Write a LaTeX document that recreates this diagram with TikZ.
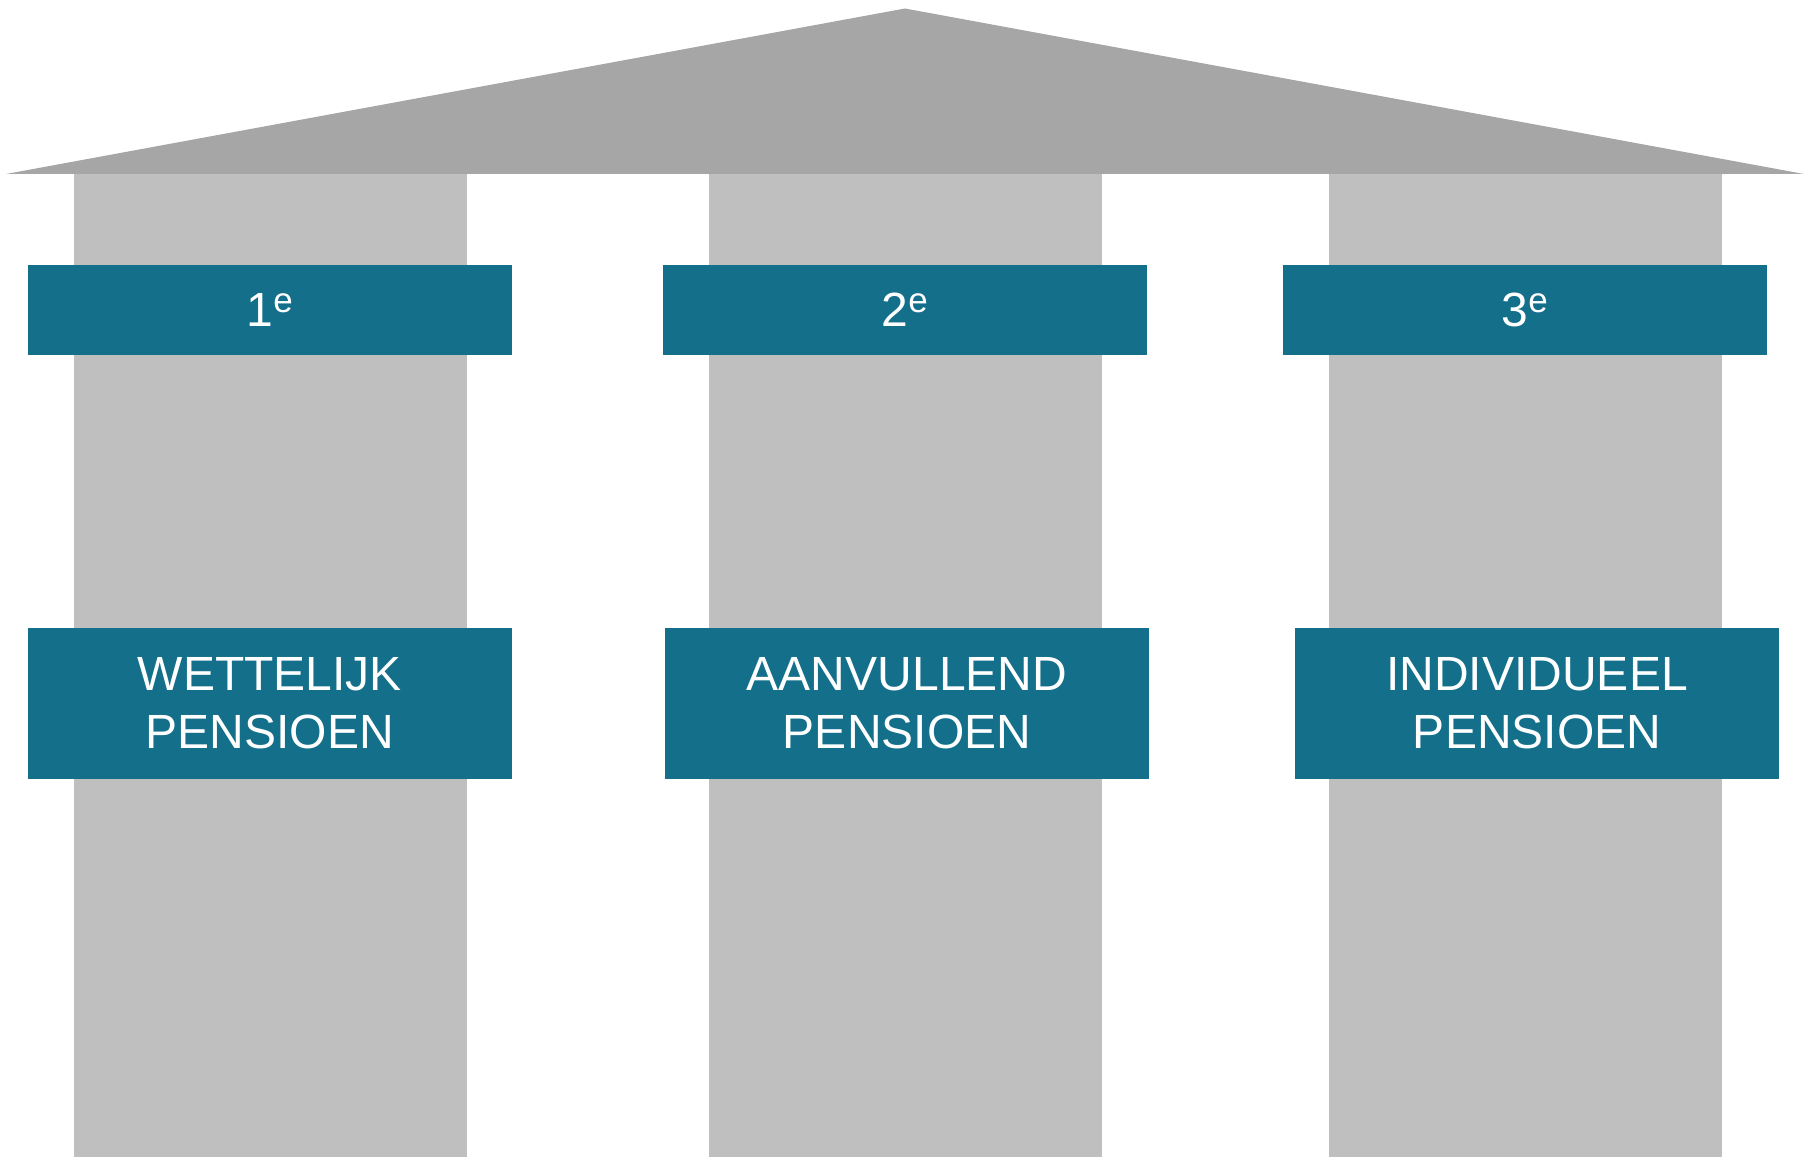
\documentclass[tikz,border=0pt]{standalone}
\usepackage{fontspec}
\setmainfont{Liberation Sans}
\definecolor{roofgray}{HTML}{A6A6A6}
\definecolor{pillargray}{HTML}{BFBFBF}
\definecolor{bannerblue}{HTML}{136F8A}
\newcommand{\supe}{\raisebox{14pt}{\fontsize{35}{35}\selectfont e}}
\begin{document}
\begin{tikzpicture}[x=1pt,y=-1pt,
  roofshape/.style={fill=roofgray},
  pillar/.style={fill=pillargray},
  banner/.style={fill=bannerblue, text=white, inner sep=0pt, align=center,
    minimum width=484pt, font=\fontsize{48}{57.6}\selectfont},
  topbanner/.style={banner, minimum height=90pt},
  botbanner/.style={banner, minimum height=151pt}]
\useasboundingbox (0,0) rectangle (1807,1161);
% roof
\fill[roofshape] (6,174) -- (905,8.5) -- (1804,174) -- cycle;
% pillars
\fill[pillar] (74,174) rectangle (467,1157);
\fill[pillar] (709,174) rectangle (1102,1157);
\fill[pillar] (1329,174) rectangle (1722,1157);
% top banners
\node[topbanner] (t1) at (269.7,310) {1\supe};
\node[topbanner] (t2) at (904.8,310) {2\supe};
\node[topbanner] (t3) at (1524.8,310) {3\supe};
% bottom banners
\node[botbanner] (b1) at (269.7,703.5) {WETTELIJK\\PENSIOEN};
\node[botbanner] (b2) at (907,703.5) {AANVULLEND\\PENSIOEN};
\node[botbanner] (b3) at (1537,703.5) {INDIVIDUEEL\\PENSIOEN};
\end{tikzpicture}
\end{document}
